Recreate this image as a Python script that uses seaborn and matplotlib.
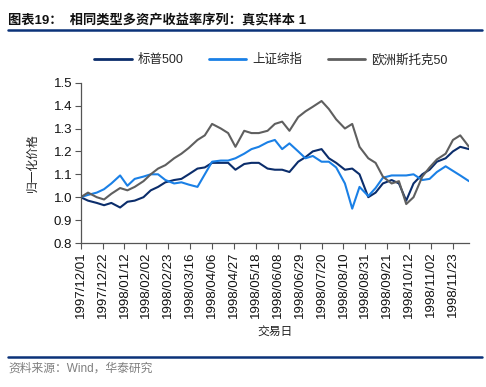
import numpy as np
import pandas as pd
import matplotlib
matplotlib.use("Agg")
import matplotlib.pyplot as plt
from matplotlib.lines import Line2D
import seaborn as sns

# ---- data (trading-day offsets from 1997/12/01, normalised prices) ----
days = [0, 5, 11, 16, 21, 27, 32, 37, 43, 48, 53, 58, 64, 69, 74, 80, 85, 90, 96,
        101, 106, 112, 117, 122, 128, 133, 138, 143, 149, 154, 159, 165, 170, 175,
        181, 186, 191, 197, 202, 207, 213, 218, 223, 228, 234, 239, 244, 250, 255,
        260, 266]

sp500 = [1.00, 0.985, 0.975, 0.965, 0.975, 0.955, 0.98, 0.985, 1.00, 1.03, 1.045,
         1.065, 1.075, 1.08, 1.10, 1.125, 1.13, 1.15, 1.15, 1.15, 1.12, 1.145, 1.15,
         1.15, 1.125, 1.12, 1.12, 1.11, 1.155, 1.175, 1.20, 1.21, 1.17, 1.15, 1.12,
         1.125, 1.10, 1.00, 1.02, 1.06, 1.075, 1.06, 0.985, 1.06, 1.10, 1.12, 1.155,
         1.17, 1.20, 1.22, 1.21]

shcomp = [1.00, 1.01, 1.02, 1.035, 1.06, 1.095, 1.05, 1.08, 1.09, 1.10, 1.10,
          1.075, 1.06, 1.065, 1.055, 1.045, 1.10, 1.155, 1.16, 1.16, 1.17, 1.19,
          1.21, 1.22, 1.24, 1.25, 1.21, 1.235, 1.20, 1.17, 1.18, 1.155, 1.155, 1.13,
          1.06, 0.95, 1.045, 1.005, 1.04, 1.085, 1.095, 1.095, 1.095, 1.10, 1.075,
          1.08, 1.11, 1.135, 1.115, 1.095, 1.07]

stoxx50 = [1.00, 1.02, 1.00, 0.99, 1.015, 1.04, 1.03, 1.045, 1.07, 1.10, 1.125,
           1.14, 1.17, 1.19, 1.215, 1.25, 1.27, 1.32, 1.30, 1.28, 1.22, 1.29, 1.28,
           1.28, 1.29, 1.32, 1.33, 1.29, 1.35, 1.375, 1.395, 1.42, 1.385, 1.34, 1.30,
           1.32, 1.22, 1.17, 1.15, 1.09, 1.06, 1.07, 0.97, 1.00, 1.09, 1.13, 1.165,
           1.19, 1.25, 1.27, 1.22]

series_names = ["标普500", "上证综指", "欧洲斯托克50"]
colors = ["#0b2d6b", "#1a80e6", "#5f5f5f"]

tick_labels = ["1997/12/01", "1997/12/22", "1998/01/12", "1998/02/02", "1998/02/23",
               "1998/03/16", "1998/04/06", "1998/04/27", "1998/05/18", "1998/06/08",
               "1998/06/29", "1998/07/20", "1998/08/10", "1998/08/31", "1998/09/21",
               "1998/10/12", "1998/11/02", "1998/11/23"]
tick_step = 15

df = pd.concat([
    pd.DataFrame({"day": days, "value": vals, "series": name})
    for name, vals in zip(series_names, [sp500, shcomp, stoxx50])
], ignore_index=True)

# ---- style ----
sns.set_style("ticks")
plt.rcParams["font.family"] = ["Liberation Sans", "Noto Sans CJK SC"]
plt.rcParams["axes.unicode_minus"] = False

fig = plt.figure(figsize=(4.86, 3.87), dpi=100)
W, H = 486, 387
ax = fig.add_axes([80.7 / W, 1 - 243 / H, (469 - 80.7) / W, (243 - 82.7) / H])

sns.lineplot(data=df, x="day", y="value", hue="series", hue_order=series_names,
             palette=colors, linewidth=1.5, ax=ax, legend=False, sort=False)

ax.set_xlim(0, days[-1])
ax.set_ylim(0.8, 1.5)
ax.set_yticks(np.arange(0.8, 1.51, 0.1))
ax.set_yticklabels([f"{v:.1f}" for v in np.arange(0.8, 1.51, 0.1)], fontsize=9.5)
ax.set_xticks(list(range(0, tick_step * len(tick_labels), tick_step)))
ax.set_xticklabels(tick_labels, rotation=90, fontsize=9.5)
ax.tick_params(axis="both", direction="out", length=4, width=0.8, color="#555555",
               labelcolor="#111111", pad=2)
for s in ["top", "right"]:
    ax.spines[s].set_visible(False)
for s in ["left", "bottom"]:
    ax.spines[s].set_color("#555555")
    ax.spines[s].set_linewidth(0.9)

ax.set_xlabel("")
ax.set_ylabel("")
fig.text(32 / W, 1 - 163 / H, "归一化价格", rotation=90, ha="center", va="center",
         fontsize=8.5, color="#222222", family=["Noto Sans CJK SC"])
fig.text(275 / W, 1 - 332 / H, "交易日", ha="center", va="center",
         fontsize=8.5, color="#222222", family=["Noto Sans CJK SC"])

handles = [Line2D([0], [0], color=c, lw=2) for c in colors]
fig.legend(handles, series_names, loc="center", bbox_to_anchor=(271 / W, 1 - 60 / H),
           ncol=3, frameon=False, fontsize=9, handlelength=3.0, handletextpad=0.5,
           columnspacing=2.0, prop={"family": ["Liberation Sans", "Noto Sans CJK SC"], "size": 9})

# title, rules, source
fig.text(8 / W, 1 - 20.5 / H, "图表19：  相同类型多资产收益率序列：真实样本 1",
         ha="left", va="center", fontsize=9.5, fontweight="bold", color="#111111")
fig.add_artist(Line2D([8 / W, 482 / W], [1 - 29.5 / H] * 2, color="#0b3279", lw=1.8,
                      transform=fig.transFigure))
fig.add_artist(Line2D([8 / W, 482 / W], [1 - 357.3 / H] * 2, color="#0b3279", lw=1.8,
                      transform=fig.transFigure))
fig.text(8 / W, 1 - 369 / H, "资料来源：Wind，华泰研究", ha="left", va="center",
         fontsize=8.5, color="#7f7f7f")

fig.savefig("out.png", dpi=100)
